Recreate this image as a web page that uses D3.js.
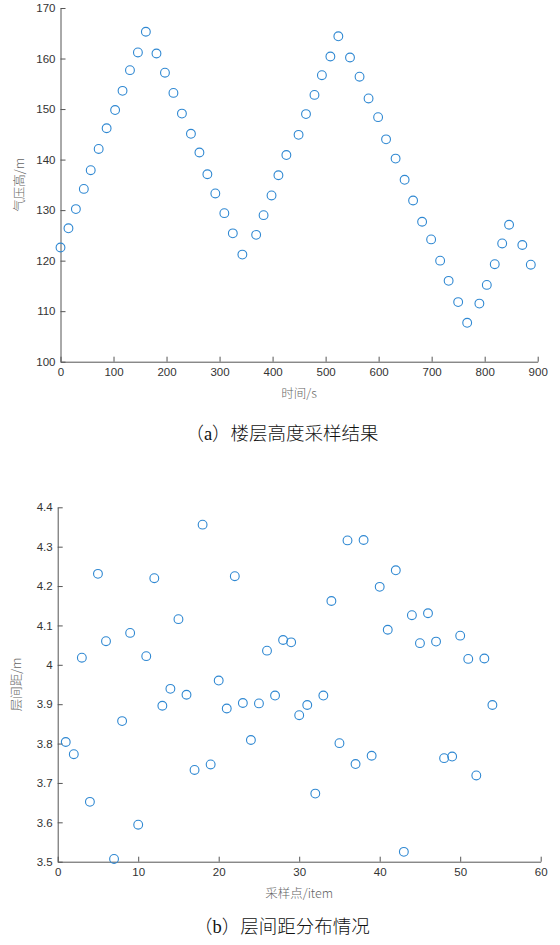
<!DOCTYPE html>
<html>
<head>
<meta charset="utf-8">
<script src="https://cdn.jsdelivr.net/npm/d3@7"></script>
<style>
  html, body { margin: 0; padding: 0; background: #fff; }
  svg { display: block; }
  .tick text { font-family: "Liberation Sans", Arial, sans-serif; font-size: 11.5px; fill: #333; }
  .axis path, .axis line { stroke: #555; stroke-width: 1; }
  .alabel { font-family: "Noto Sans CJK SC", sans-serif; font-size: 12.5px; fill: #666; font-weight: 300; }
  .caption { font-family: "Liberation Serif", "Noto Sans CJK SC", serif; font-size: 18.5px; fill: #111; font-weight: 300; }
</style>
</head>
<body>
<svg id="fig" width="560" height="945"></svg>
<script>
// (a) barometric floor height over time
const timeSec = [0,15,29,44,57,72,87,103,117,131,146,161,181,197,213,229,246,262,277,292,
  309,325,343,369,383,398,411,426,449,463,479,493,509,524,546,564,581,599,614,632,
  649,665,682,699,716,732,750,767,790,804,819,833,846,871,887];
const heightM = [122.6,126.4,130.2,134.2,137.9,142.1,146.2,149.8,153.6,157.7,161.2,165.3,161.0,157.2,153.2,149.1,145.1,141.4,137.1,133.3,
  129.4,125.4,121.2,125.1,129.0,132.9,136.9,140.9,144.9,149.0,152.8,156.7,160.4,164.4,160.2,156.4,152.1,148.4,144.0,140.2,
  136.0,131.9,127.7,124.2,120.0,116.0,111.8,107.7,111.5,115.2,119.3,123.4,127.1,123.1,119.2];
const timeTicks = [0,100,200,300,400,500,600,700,800,900];
const heightTicks = [100,110,120,130,140,150,160,170];

// (b) floor spacing per sample point
const samplePoint = [1,2,3,4,5,6,7,8,9,10,11,12,13,14,15,16,17,18,19,20,21,22,23,24,25,26,27,
  28,29,30,31,32,33,34,35,36,37,38,39,40,41,42,43,44,45,46,47,48,49,50,51,52,53,54];
const spacingM = [3.804,3.773,4.018,3.652,4.231,4.060,3.507,3.857,4.081,3.594,4.022,4.220,3.896,3.939,4.116,3.924,3.733,4.356,3.747,3.960,
  3.889,4.225,3.903,3.809,3.902,4.036,3.922,4.063,4.057,3.872,3.898,3.673,3.922,4.162,3.801,4.316,3.748,4.317,3.769,4.198,
  4.089,4.240,3.525,4.126,4.055,4.131,4.059,3.763,3.767,4.074,4.015,3.719,4.016,3.898];
const sampleTicks = [0,10,20,30,40,50,60];
const spacingTicks = [3.5,3.6,3.7,3.8,3.9,4,4.1,4.2,4.3,4.4];

const svg = d3.select("#fig");
const markerColor = "#2f88d2";

function scatterPanel(cfg) {
  const x = d3.scaleLinear().domain(cfg.xDomain).range([cfg.left, cfg.right]);
  const y = d3.scaleLinear().domain(cfg.yDomain).range([cfg.bottom, cfg.top]);
  const g = svg.append("g");

  g.append("g").attr("class", "axis")
    .attr("transform", `translate(0,${cfg.bottom})`)
    .call(d3.axisBottom(x).tickValues(cfg.xTicks).tickFormat(d3.format("d"))
      .tickSizeInner(-5).tickSizeOuter(0).tickPadding(6));

  g.append("g").attr("class", "axis")
    .attr("transform", `translate(${cfg.left},0)`)
    .call(d3.axisLeft(y).tickValues(cfg.yTicks).tickFormat(cfg.yFormat)
      .tickSizeInner(-5).tickSizeOuter(0).tickPadding(5));

  g.append("g").selectAll("circle")
    .data(cfg.xs.map((v, i) => [v, cfg.ys[i]]))
    .join("circle")
    .attr("cx", d => x(d[0]))
    .attr("cy", d => y(d[1]))
    .attr("r", 4.4)
    .attr("fill", "none")
    .attr("stroke", markerColor)
    .attr("stroke-width", 1.1);

  g.append("text").attr("class", "alabel")
    .attr("x", (cfg.left + cfg.right) / 2)
    .attr("y", cfg.bottom + 36)
    .attr("text-anchor", "middle")
    .text(cfg.xLabel);

  g.append("text").attr("class", "alabel")
    .attr("transform", `translate(${cfg.left - 37},${(cfg.top + cfg.bottom) / 2}) rotate(-90)`)
    .attr("text-anchor", "middle")
    .text(cfg.yLabel);

  g.append("text").attr("class", "caption")
    .attr("x", 282)
    .attr("y", cfg.captionY)
    .attr("text-anchor", "middle")
    .text(cfg.caption);
}

scatterPanel({
  xs: timeSec, ys: heightM,
  xDomain: [0, 900], yDomain: [100, 170],
  left: 60.5, right: 537.7, top: 8, bottom: 361.7,
  xTicks: timeTicks, yTicks: heightTicks, yFormat: d3.format("d"),
  xLabel: "时间/s", yLabel: "气压高/m",
  caption: "（a）楼层高度采样结果", captionY: 440
});

scatterPanel({
  xs: samplePoint, ys: spacingM,
  xDomain: [0, 60], yDomain: [3.5, 4.4],
  left: 57.7, right: 540.7, top: 507.3, bottom: 861.7,
  xTicks: sampleTicks, yTicks: spacingTicks, yFormat: d => (d === 4 ? "4" : d3.format(".1f")(d)),
  xLabel: "采样点/item", yLabel: "层间距/m",
  caption: "（b）层间距分布情况", captionY: 933
});
</script>
</body>
</html>
